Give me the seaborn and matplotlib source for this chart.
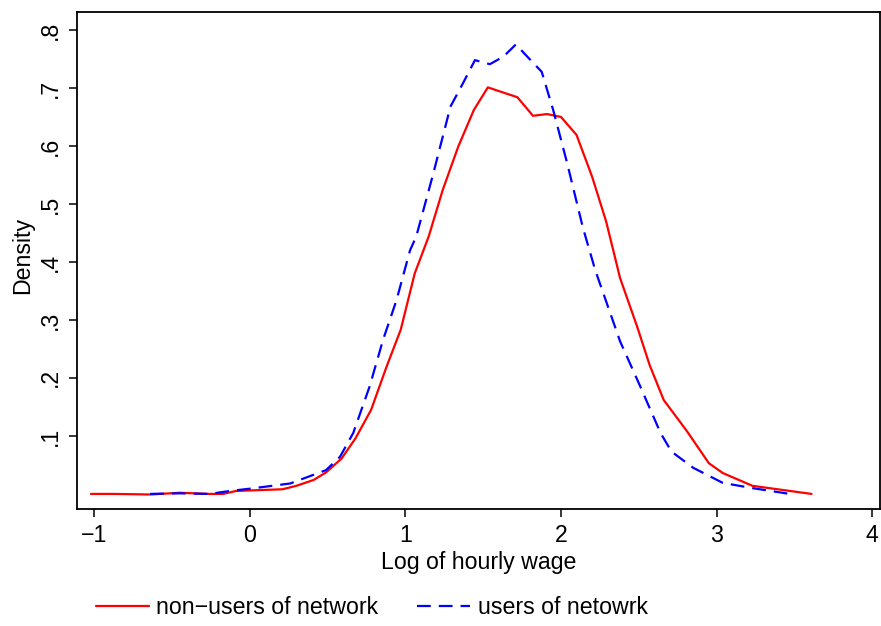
import matplotlib
matplotlib.use("Agg")
import matplotlib.pyplot as plt
import seaborn as sns
import pandas as pd
from matplotlib.lines import Line2D

# Data
nonusers_x = [-1.02, -0.87, -0.64, -0.45, -0.26, -0.17, -0.09, 0.0, 0.21, 0.30, 0.41, 0.49,
              0.59, 0.68, 0.78, 0.88, 0.97, 1.06, 1.15, 1.24, 1.34, 1.44, 1.53, 1.72,
              1.82, 1.91, 2.00, 2.10, 2.20, 2.29, 2.38, 2.49, 2.57, 2.66, 2.81, 2.95,
              3.04, 3.23, 3.61]
nonusers_y = [0.0, 0.0, -0.001, 0.002, 0.0, 0.0, 0.005, 0.006, 0.008, 0.014, 0.024, 0.037,
              0.061, 0.096, 0.145, 0.22, 0.283, 0.38, 0.444, 0.524, 0.599, 0.662, 0.701, 0.684,
              0.652, 0.655, 0.650, 0.619, 0.547, 0.47, 0.372, 0.288, 0.222, 0.162, 0.108, 0.053,
              0.036, 0.014, 0.0]

users_x = [-0.64, -0.45, -0.26, -0.13, 0.0, 0.26, 0.49, 0.58, 0.665, 0.77, 0.857, 0.943,
           1.03, 1.07, 1.18, 1.29, 1.37, 1.447, 1.543, 1.63, 1.71, 1.84, 1.876, 1.95,
           2.04, 2.14, 2.22, 2.38, 2.51, 2.64, 2.71, 2.85, 3.04, 3.23, 3.47]
users_y = [0.0, 0.001, 0.0, 0.005, 0.009, 0.018, 0.041, 0.064, 0.105, 0.185, 0.266, 0.334,
           0.42, 0.444, 0.553, 0.668, 0.708, 0.748, 0.741, 0.754, 0.775, 0.738, 0.728, 0.662,
           0.57, 0.46, 0.386, 0.263, 0.185, 0.105, 0.073, 0.045, 0.019, 0.01, 0.0]

x_ticks = [-1, 0, 1, 2, 3, 4]
x_tick_labels = ["\u22121", "0", "1", "2", "3", "4"]
y_ticks = [0.1, 0.2, 0.3, 0.4, 0.5, 0.6, 0.7, 0.8]
y_tick_labels = [".1", ".2", ".3", ".4", ".5", ".6", ".7", ".8"]
series_labels = ["non\u2212users of network", "users of netowrk"]

sns.set_style("ticks")
plt.rcParams["font.family"] = ["Liberation Sans", "DejaVu Sans"]
plt.rcParams["text.color"] = "black"
plt.rcParams["axes.labelcolor"] = "black"
plt.rcParams["xtick.color"] = "black"
plt.rcParams["ytick.color"] = "black"

FS = 16.7
DASH = (0, (6.2, 3.6))

fig = plt.figure(figsize=(8.81, 6.26), dpi=100)
ax = fig.add_axes([77 / 881, 1 - 509 / 626, (880 - 77) / 881, (509 - 12) / 626])

df_n = pd.DataFrame({"x": nonusers_x, "y": nonusers_y})
df_u = pd.DataFrame({"x": users_x, "y": users_y})
sns.lineplot(data=df_n, x="x", y="y", ax=ax, color="#ff0000", lw=1.6, sort=False)
sns.lineplot(data=df_u, x="x", y="y", ax=ax, color="#0000ff", lw=1.6, sort=False,
             linestyle=DASH)

ax.set_xlim(-1.11, 4.05)
ax.set_ylim(-0.026, 0.831)
ax.set_xticks(x_ticks)
ax.set_xticklabels(x_tick_labels)
ax.set_yticks(y_ticks)
ax.set_yticklabels(y_tick_labels, rotation=90, va="center")
ax.tick_params(axis="both", direction="out", length=6, width=1.1, labelsize=FS,
               color="black", labelcolor="black", pad=5)
for s in ax.spines.values():
    s.set_visible(True)
    s.set_linewidth(1.3)
    s.set_color("black")
ax.set_xlabel("Log of hourly wage", fontsize=FS, labelpad=3, color="black")
ax.set_ylabel("Density", fontsize=FS, color="black")
ax.yaxis.set_label_coords(-0.054, 0.51)

handles = [Line2D([], [], color="#ff0000", lw=1.6),
           Line2D([], [], color="#0000ff", lw=1.6, linestyle=DASH)]
leg = fig.legend(handles, series_labels, loc="center left",
                 bbox_to_anchor=(95.7 / 881, 1 - 607.7 / 626),
                 ncol=2, frameon=False, fontsize=FS, handlelength=2.29, handletextpad=0.32,
                 columnspacing=1.68, borderaxespad=0, borderpad=0)
for t in leg.get_texts():
    t.set_color("black")

fig.savefig("out.png", dpi=100, facecolor="white")
